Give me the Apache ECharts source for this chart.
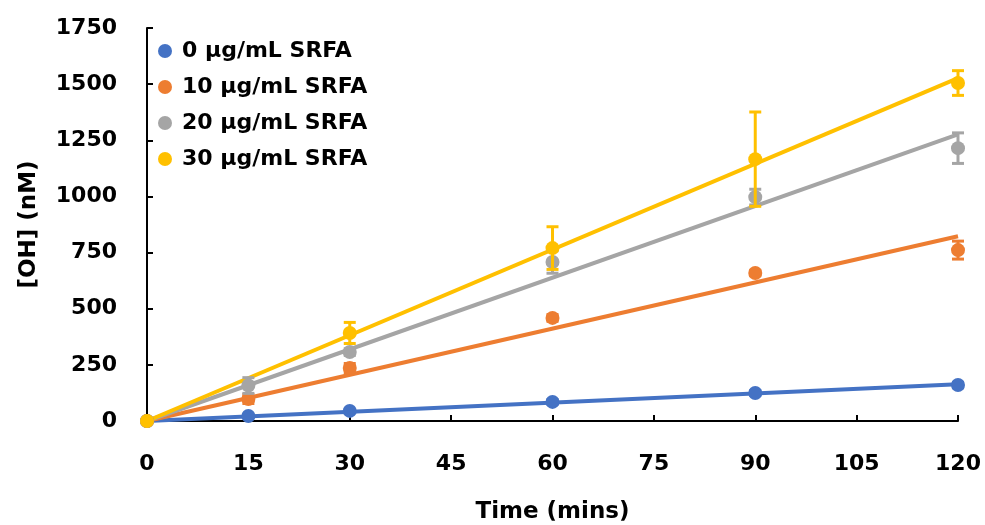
<!DOCTYPE html>
<html>
<head>
<meta charset="utf-8">
<script src="https://cdn.jsdelivr.net/npm/echarts@6/dist/echarts.min.js"></script>
<style>
  html, body { margin: 0; padding: 0; background: #fff; }
  #chart { width: 985px; height: 525px; }
</style>
</head>
<body>
<div id="chart"></div>
<script>
// Sampling times (minutes)
const times = [0, 15, 30, 60, 90, 120];

// Series names
const seriesNames = ['0 µg/mL SRFA', '10 µg/mL SRFA', '20 µg/mL SRFA', '30 µg/mL SRFA'];

// Mean [OH] (nM) per time point
const oh0  = [0, 22, 45, 85, 125, 160];
const oh10 = [0, 98, 236, 459, 659, 761];
const oh20 = [0, 158, 307, 708, 997, 1215];
const oh30 = [0, null, 392, 770, 1166, 1505];

// Standard deviations (nM)
const sd0  = [0, 3, 5, 10, 10, 12];
const sd10 = [0, 20, 20, 15, 12, 40];
const sd20 = [0, 35, 15, 50, 35, 68];
const sd30 = [0, null, 47, 95, 210, 55];

// Y axis ticks
const yTicks = [0, 250, 500, 750, 1000, 1250, 1500, 1750];

const colors = ['#4472C4', '#ED7D31', '#A5A5A5', '#FFC000'];
const means = [oh0, oh10, oh20, oh30];
const sds = [sd0, sd10, sd20, sd30];

const FONT = 'DejaVu Sans';

// Least-squares slope of a line forced through the origin
function slopeThroughOrigin(xs, ys) {
  let sxy = 0, sxx = 0;
  xs.forEach((x, i) => {
    if (ys[i] == null) return;
    sxy += x * ys[i];
    sxx += x * x;
  });
  return sxy / sxx;
}

function pairs(ys) {
  return times.map((t, i) => ys[i] == null ? null : [t, ys[i]]).filter(Boolean);
}

const series = [];

// Trend lines
means.forEach((ys, k) => {
  const m = slopeThroughOrigin(times, ys);
  series.push({
    name: seriesNames[k] + ' fit',
    type: 'line',
    data: [[0, 0], [120, m * 120]],
    showSymbol: false,
    symbol: 'none',
    lineStyle: { color: colors[k], width: 4 },
    z: 2,
    silent: true
  });
});

// Error bars + points, in series order
means.forEach((ys, k) => {
  const errData = times
    .map((t, i) => ys[i] == null ? null : [t, ys[i], sds[k][i]])
    .filter(Boolean);
  series.push({
    name: seriesNames[k] + ' sd',
    type: 'custom',
    data: errData,
    z: 3 + k * 2,
    silent: true,
    renderItem: function (params, api) {
      const x = api.value(0), y = api.value(1), e = api.value(2);
      const lo = api.coord([x, y - e]);
      const hi = api.coord([x, y + e]);
      const cap = 6;
      const style = { stroke: colors[k], lineWidth: 3 };
      return {
        type: 'group',
        children: [
          { type: 'line', shape: { x1: lo[0], y1: lo[1], x2: hi[0], y2: hi[1] }, style: style },
          { type: 'line', shape: { x1: lo[0] - cap, y1: lo[1], x2: lo[0] + cap, y2: lo[1] }, style: style },
          { type: 'line', shape: { x1: hi[0] - cap, y1: hi[1], x2: hi[0] + cap, y2: hi[1] }, style: style }
        ]
      };
    }
  });
  series.push({
    name: seriesNames[k],
    type: 'scatter',
    data: pairs(ys),
    symbol: 'circle',
    symbolSize: 14,
    itemStyle: { color: colors[k], opacity: 1 },
    z: 4 + k * 2
  });
});

const plain = v => String(v);

const chart = echarts.init(document.getElementById('chart'), null, { renderer: 'canvas' });
chart.setOption({
  animation: false,
  backgroundColor: '#ffffff',
  textStyle: { fontFamily: FONT },
  grid: {
    left: 147, right: 27, top: 28, bottom: 104,
    containLabel: false,
    outerBoundsMode: 'none'
  },
  legend: {
    data: seriesNames,
    orient: 'vertical',
    left: 153,
    top: 28,
    icon: 'circle',
    itemWidth: 14,
    itemHeight: 14,
    itemGap: 0,
    textStyle: {
      fontFamily: FONT, fontWeight: 'bold', fontSize: 22, color: '#000',
      lineHeight: 36, padding: [0, 0, 0, 5]
    }
  },
  xAxis: {
    type: 'value',
    min: 0,
    max: 120,
    interval: 15,
    name: 'Time (mins)',
    nameLocation: 'middle',
    nameGap: 80,
    nameTextStyle: { fontFamily: FONT, fontWeight: 'bold', fontSize: 23, color: '#000' },
    axisLine: { show: true, lineStyle: { color: '#000', width: 2 } },
    axisTick: { show: true, inside: true, length: 6, lineStyle: { color: '#000', width: 2 } },
    axisLabel: { fontFamily: FONT, fontWeight: 'bold', fontSize: 22, color: '#000', margin: 32, formatter: plain },
    splitLine: { show: false }
  },
  yAxis: {
    type: 'value',
    min: yTicks[0],
    max: yTicks[yTicks.length - 1],
    interval: yTicks[1] - yTicks[0],
    name: '[OH] (nM)',
    nameLocation: 'middle',
    nameGap: 106,
    nameRotate: 90,
    nameTextStyle: { fontFamily: FONT, fontWeight: 'bold', fontSize: 23, color: '#000' },
    axisLine: { show: true, lineStyle: { color: '#000', width: 2 } },
    axisTick: { show: true, inside: true, length: 6, lineStyle: { color: '#000', width: 2 } },
    axisLabel: { fontFamily: FONT, fontWeight: 'bold', fontSize: 22, color: '#000', margin: 30, formatter: plain },
    splitLine: { show: false }
  },
  series: series
});
</script>
</body>
</html>
